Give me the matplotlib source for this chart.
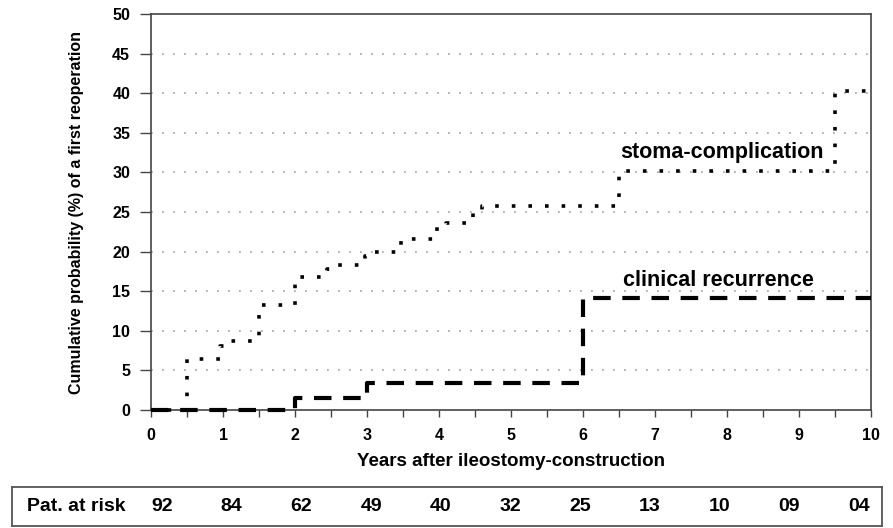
import numpy as np
import matplotlib
matplotlib.use('Agg')
import matplotlib.pyplot as plt

# Data
# stoma-complication: step times (years) and cumulative probability (%) after each step
STOMA_T = [0.0, 0.5, 0.96, 1.1, 1.5, 2.0, 2.07, 2.45, 2.6, 2.97, 3.1, 3.47, 3.6,
           3.97, 4.1, 4.47, 4.6, 6.5, 9.5, 10.0]
STOMA_P = [0.0, 6.4, 8.1, 8.7, 13.3, 16.0, 16.8, 17.8, 18.3, 19.5, 19.9, 21.4, 21.6,
           23.1, 23.6, 25.0, 25.8, 30.2, 40.3, 40.3]

# clinical recurrence
RECUR_T = [0.0, 2.0, 3.0, 6.0, 10.0]
RECUR_P = [0.0, 1.5, 3.4, 14.1, 14.1]

AT_RISK = ['92', '84', '62', '49', '40', '32', '25', '13', '10', '09', '04']

FONT = 'Liberation Sans'
W, H = 893, 528

plt.rcParams['font.family'] = [FONT, 'DejaVu Sans']
plt.rcParams['font.weight'] = 'bold'

fig = plt.figure(figsize=(W / 100, H / 100), dpi=100)
ax = fig.add_axes([151 / W, 118 / H, 720 / W, 396 / H])

# horizontal dotted grid
for yy in range(5, 50, 5):
    ax.axhline(yy, color='#a0a0a0', lw=1.1, ls=(0, (1.2, 6.0)), zorder=0)

ax.step(STOMA_T, STOMA_P, where='post', color='black', lw=2.6,
        ls=(0, (1, 3.6)), dash_capstyle='butt', clip_on=False, zorder=3)
ax.step(RECUR_T, RECUR_P, where='post', color='black', lw=3.0,
        ls=(0, (4.2, 2.8)), dash_capstyle='butt', clip_on=False, zorder=3)

ax.text(6.52, 31.8, 'stoma-complication', fontsize=15.5, fontweight='bold',
        ha='left', va='baseline')
ax.text(6.55, 15.6, 'clinical recurrence', fontsize=15.5, fontweight='bold',
        ha='left', va='baseline')

ax.set_xlim(0, 10)
ax.set_ylim(0, 50)
ax.set_xticks(range(0, 11))
ax.set_xticks(np.arange(0.5, 10, 1.0), minor=True)
ax.set_yticks(range(0, 51, 5))
ax.tick_params(axis='x', which='both', direction='out', length=5, width=1.0,
               color='#444444', labelsize=11.5, pad=8)
ax.tick_params(axis='y', direction='out', length=8, width=1.0,
               color='#444444', labelsize=11.5, pad=7)
for lab in ax.get_xticklabels() + ax.get_yticklabels():
    lab.set_fontweight('bold')
for sp in ax.spines.values():
    sp.set_color('#444444')
    sp.set_linewidth(1.2)

ax.set_xlabel('Years after ileostomy-construction', fontsize=13.5,
              fontweight='bold', labelpad=7)
ax.set_ylabel('Cumulative probability (%) of a first reoperation', fontsize=11.5,
              fontweight='bold', labelpad=20)

# patients-at-risk box
box = fig.add_axes([12 / W, 2 / H, 870 / W, 39 / H])
box.set_xticks([])
box.set_yticks([])
for sp in box.spines.values():
    sp.set_color('#555555')
    sp.set_linewidth(1.3)
box.set_xlim(12, 882)
box.set_ylim(0, 1)
box.text(27, 0.5, 'Pat. at risk', fontsize=14, fontweight='bold',
         ha='left', va='center')
xs = np.linspace(162, 859, len(AT_RISK))
for xp, lab in zip(xs, AT_RISK):
    box.text(xp, 0.5, lab, fontsize=14, fontweight='bold', ha='center', va='center')

fig.savefig('out.png', dpi=100)
